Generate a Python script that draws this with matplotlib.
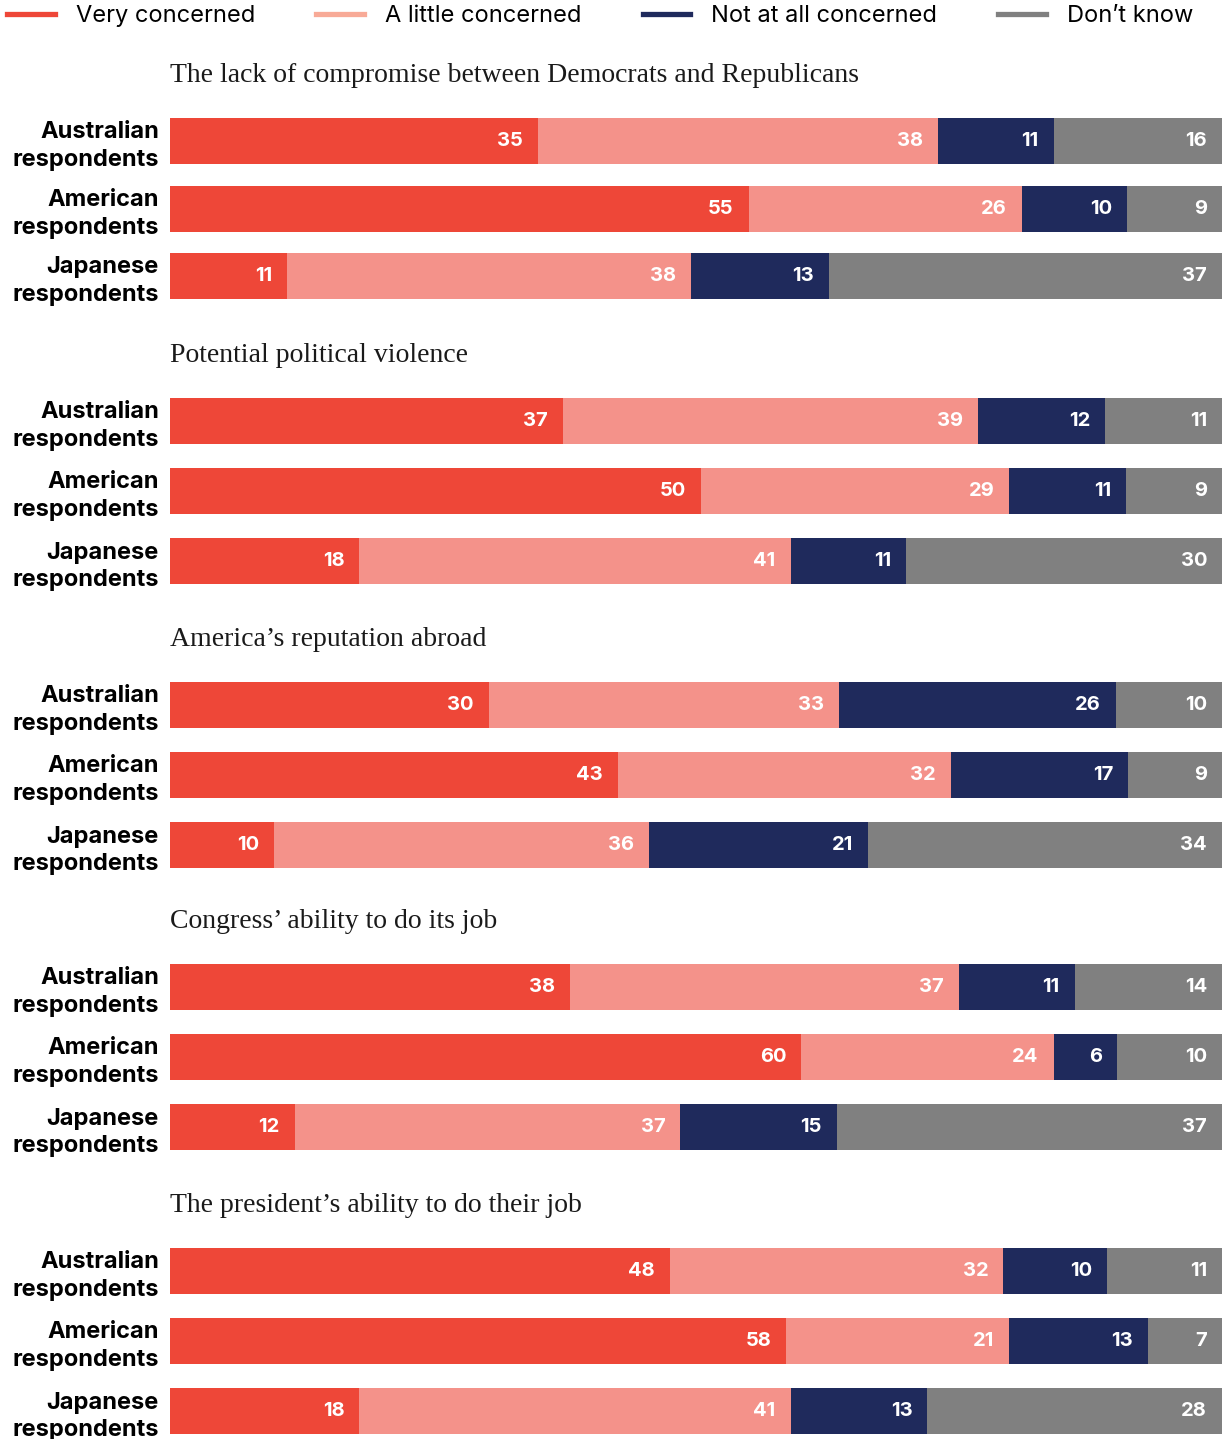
import matplotlib
matplotlib.use("Agg")
import matplotlib.pyplot as plt
from matplotlib.lines import Line2D

# data
topics = [
    "The lack of compromise between Democrats and Republicans",
    "Potential political violence",
    "America\u2019s reputation abroad",
    "Congress\u2019 ability to do its job",
    "The president\u2019s ability to do their job",
]
respondents = ["Australian\nrespondents", "American\nrespondents", "Japanese\nrespondents"]
series_names = ["Very concerned", "A little concerned", "Not at all concerned", "Don\u2019t know"]

# one row per topic, order: Australian, American, Japanese
very_concerned = [[35, 55, 11], [37, 50, 18], [30, 43, 10], [38, 60, 12], [48, 58, 18]]
little_concerned = [[38, 26, 38], [39, 29, 41], [33, 32, 36], [37, 24, 37], [32, 21, 41]]
not_concerned = [[11, 10, 13], [12, 11, 11], [26, 17, 21], [11, 6, 15], [10, 13, 13]]
dont_know = [[16, 9, 37], [11, 9, 30], [10, 9, 34], [14, 10, 37], [11, 7, 28]]

colors = ["#EE4738", "#F4928A", "#1F2A5C", "#808080"]
legend_colors = ["#EE4738", "#F8AA97", "#1F2A5C", "#808080"]

W, H = 1229, 1439
fig = plt.figure(figsize=(W / 100, H / 100), dpi=100)

# layout in pixels
bar_left, bar_right = 170, 1222
group_tops = [118, 398, 682, 964, 1248]
row_step = [67.5, 70, 70, 70, 70]
bar_px = 46

sans = ["Inter", "DejaVu Sans"]
serif = ["Liberation Serif", "DejaVu Serif"]

for g, topic in enumerate(topics):
    s = row_step[g]
    top = group_tops[g] - (s - bar_px) / 2
    height = 3 * s
    ax = fig.add_axes([bar_left / W, 1 - (top + height) / H,
                       (bar_right - bar_left) / W, height / H])
    rows = [very_concerned[g], little_concerned[g], not_concerned[g], dont_know[g]]
    totals = [sum(r[i] for r in rows) for i in range(3)]
    left = [0.0, 0.0, 0.0]
    for k, vals in enumerate(rows):
        widths = [100 * v / t for v, t in zip(vals, totals)]
        ax.barh(range(3), widths, left=left, height=bar_px / s,
                color=colors[k], edgecolor="none")
        for i, (w, v) in enumerate(zip(widths, vals)):
            ax.annotate(str(v), (left[i] + w, i), xytext=(-15, 0),
                        textcoords="offset pixels", ha="right", va="center",
                        color="white", fontsize=14.5, fontweight="bold",
                        family=sans)
        left = [l + w for l, w in zip(left, widths)]
    ax.set_xlim(0, 100)
    ax.set_ylim(2.5, -0.5)
    ax.set_yticks(range(3))
    ax.set_yticklabels(respondents, fontsize=17, fontweight="bold",
                       family=sans, linespacing=1.35, ha="right")
    ax.tick_params(axis="y", length=0, pad=8)
    ax.set_xticks([])
    for sp in ax.spines.values():
        sp.set_visible(False)
    ax.text(0, -0.5 - (43 - (s - bar_px) / 2) / s, topic, ha="left", va="center",
            fontsize=20, family=serif, color="#1a1a1a")

handles = [Line2D([], [], color=c, lw=3.8) for c in legend_colors]
fig.legend(handles, series_names, loc="center left", bbox_to_anchor=(5 / W, 1 - 16 / H),
           ncol=4, frameon=False, prop={"family": sans, "size": 17},
           handlelength=2.0, handletextpad=0.9, columnspacing=2.6,
           borderaxespad=0, borderpad=0.1)

fig.savefig("out.png", dpi=100)
